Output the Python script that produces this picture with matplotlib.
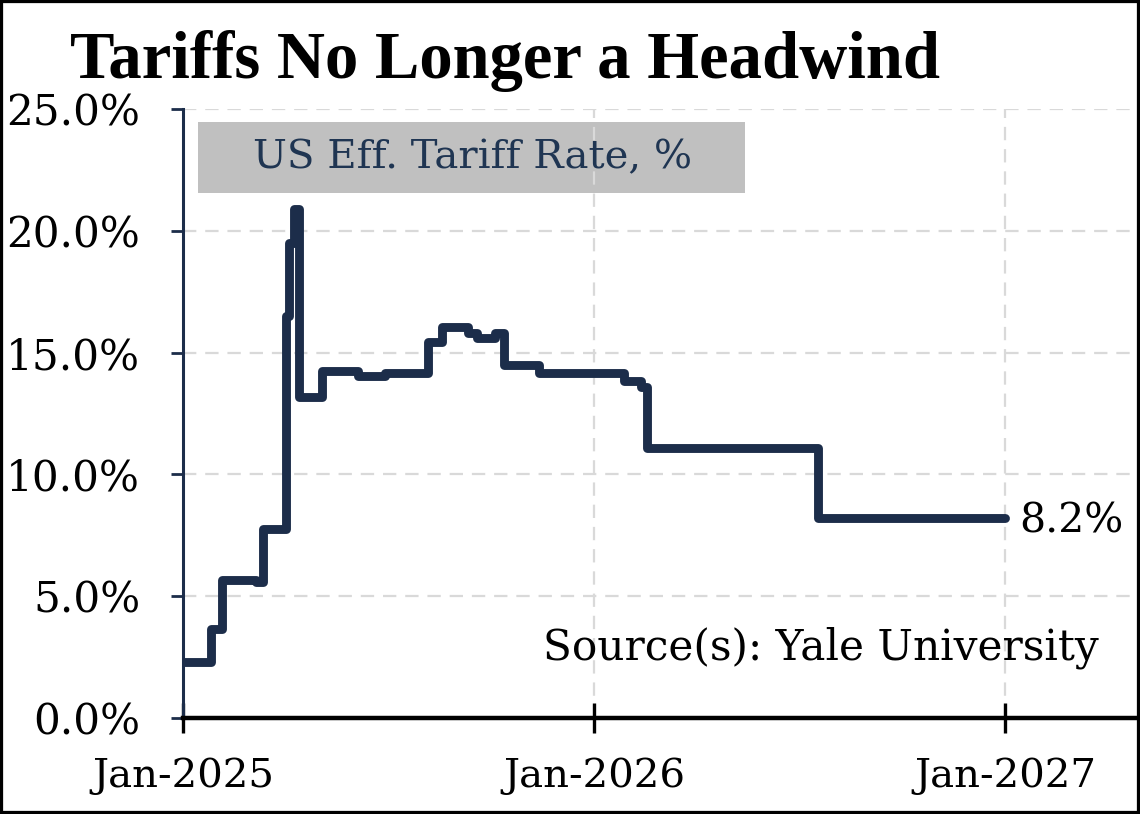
import matplotlib
matplotlib.use("Agg")
import matplotlib.pyplot as plt
from matplotlib.patches import Rectangle
import pandas as pd

# ---- data ----
dates = ['2025-01-01', '2025-01-26', '2025-02-04', '2025-03-07', '2025-03-13',
         '2025-04-02', '2025-04-05', '2025-04-09', '2025-04-14', '2025-05-04',
         '2025-06-05', '2025-06-29', '2025-08-06', '2025-08-19', '2025-09-11',
         '2025-09-19', '2025-10-05', '2025-10-13', '2025-11-13', '2026-01-28',
         '2026-02-12', '2026-02-17', '2026-07-19', '2027-01-01']
rates = [2.3, 3.65, 5.66, 5.58, 7.76,
         16.5, 19.5, 20.9, 13.2, 14.26,
         14.05, 14.15, 15.45, 16.04, 15.82,
         15.59, 15.79, 14.49, 14.17, 13.83,
         13.58, 11.07, 8.2, 8.2]
xtick_dates = ['2025-01-01', '2026-01-01', '2027-01-01']
ytick_vals = [0, 5, 10, 15, 20, 25]

title = "Tariffs No Longer a Headwind"
series_label = "US Eff. Tariff Rate, %"
source = "Source(s): Yale University"
end_label = "8.2%"

navy = "#1c2d4a"
font = "DejaVu Serif"
title_font = "Liberation Serif"

d = pd.to_datetime(dates)

fig = plt.figure(figsize=(11.4, 8.14), dpi=100)
ax = fig.add_axes([0.1608, 0.1179, 0.997 - 0.1608, 0.866 - 0.1179])

ax.plot(d, rates, drawstyle='steps-post', color=navy, lw=6.4,
        solid_capstyle='round', solid_joinstyle='round', zorder=3)

ax.set_ylim(0, 25)
ax.set_xlim(pd.Timestamp('2025-01-01'), pd.Timestamp('2027-04-28'))

ax.set_yticks(ytick_vals)
ax.set_yticklabels([f"{v:.1f}%" for v in ytick_vals], fontfamily=font, fontsize=30.3)
xt = pd.to_datetime(xtick_dates)
ax.set_xticks(xt)
ax.set_xticklabels([t.strftime('%b-%Y') for t in xt], fontfamily=font, fontsize=29)

ax.grid(True, color='#d9d9d9', lw=1.6, ls=(0, (6, 4)))
ax.set_axisbelow('line')

for s in ['top', 'right']:
    ax.spines[s].set_visible(False)
ax.spines['left'].set_color(navy)
ax.spines['left'].set_linewidth(2.2)
ax.spines['bottom'].set_color('black')
ax.spines['bottom'].set_linewidth(3.2)

ax.tick_params(axis='y', direction='out', length=9, width=2, color=navy, pad=22)
ax.tick_params(axis='x', direction='inout', length=21, width=2.4, color='black', pad=18)

# series label box
ax.add_patch(Rectangle((0.0157, 0.862), 0.574, 0.117, transform=ax.transAxes,
                       facecolor='#c0c0c0', edgecolor='none', zorder=1))
ax.text(0.303, 0.92, series_label, transform=ax.transAxes, ha='center', va='center',
        fontfamily=font, fontsize=29, color='#1f3552', zorder=4)

# source
ax.text(0.960, 0.115, source, transform=ax.transAxes, ha='right', va='center',
        fontfamily=font, fontsize=30.4, color='black', zorder=4)

# end label
ax.annotate(end_label, xy=(d[-1], rates[-1]), xytext=(10, -2), textcoords='offset points',
            ha='left', va='center', fontfamily=font, fontsize=29.5, color='black')

# title
fig.text(0.061, 0.925, title, ha='left', va='center', fontfamily=title_font,
         fontweight='bold', fontsize=48, color='black')

# figure border
fig.add_artist(Rectangle((0, 0), 1, 1, transform=fig.transFigure, fill=False,
                         edgecolor='black', lw=4.5, clip_on=False))

fig.savefig('out.png', dpi=100)
